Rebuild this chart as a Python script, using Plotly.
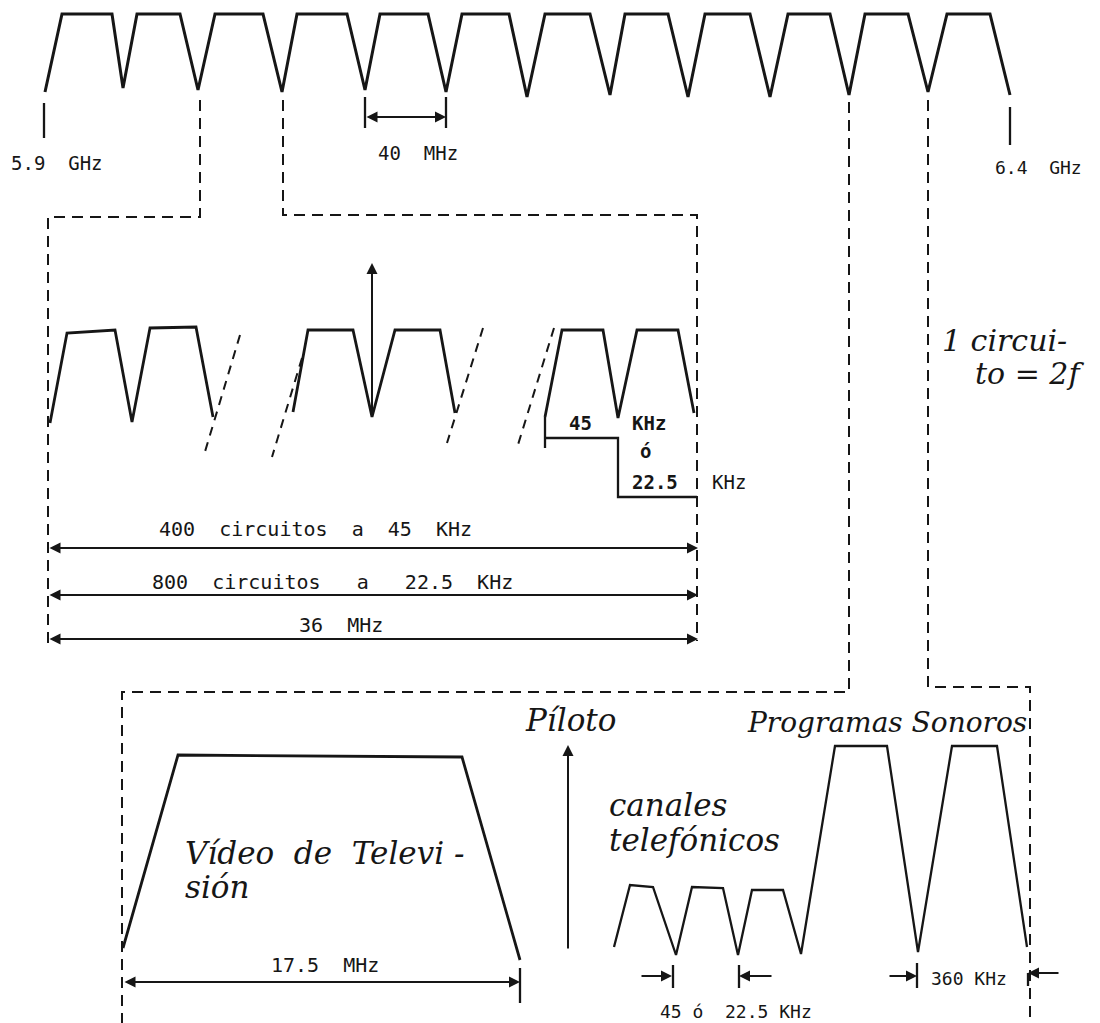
import plotly.graph_objects as go

W, H = 1100, 1023
PAGE_PAD = 8  # the page body adds an 8px margin around the figure
INK = "#161616"
LETTER = "DejaVu Sans Mono"
SCRIPT = "DejaVu Serif"

# 5.9 - 6.4 GHz band: twelve 40 MHz transponders (page pixel coords)
band_edge_x = [45, 123, 198, 282, 365, 446, 527, 610, 688, 770, 849, 928, 1010]
band_edge_y = [92, 88, 90, 92, 90, 92, 97, 95, 97, 97, 95, 92, 95]
band_top_start = [62, 137, 215, 297, 380, 462, 545, 625, 705, 788, 865, 947]
band_top_end = [112, 180, 263, 347, 428, 509, 590, 668, 750, 830, 908, 990]
band_top_y = 14

# one transponder carrying telephone circuits (three fragments)
tdm_left_x = [50, 67, 115, 132, 150, 196, 213]
tdm_left_y = [423, 333, 330, 422, 328, 327, 417]
tdm_mid_x = [293, 308, 353, 372, 395, 440, 455]
tdm_mid_y = [412, 330, 330, 417, 330, 330, 413]
tdm_right_x = [545, 562, 603, 618, 637, 678, 694]
tdm_right_y = [417, 330, 330, 418, 330, 330, 413]
# break marks between the fragments
break_x0 = [240, 302, 483, 554]
break_y0 = [335, 358, 328, 328]
break_x1 = [204, 272, 447, 517]
break_y1 = [455, 457, 443, 448]

# transponder with television video + telephone + sound programmes
tv_x = [123, 178, 462, 520]
tv_y = [948, 755, 757, 960]
tel_x = [614, 630, 653, 676, 692, 723, 738, 752, 783, 801, 835, 887, 918, 952, 997, 1027]
tel_y = [947, 885, 887, 955, 887, 888, 955, 890, 890, 954, 746, 746, 952, 746, 746, 947]

# dashed guide lines (zoom boxes)
guides = [
    ([200, 200, 48, 48], [100, 217, 217, 643]),
    ([283, 283, 697, 697], [100, 215, 215, 641]),
    ([849, 849, 122, 122], [102, 692, 692, 1023]),
    ([928, 928, 1030, 1030], [100, 687, 687, 1020]),
]

# solid ticks / brackets
ticks = [
    ([44, 44], [103, 138]),
    ([1010, 1010], [107, 145]),
    ([365, 365], [97, 128]),
    ([446, 446], [97, 128]),
    ([545, 545], [417, 448]),
    ([545, 618, 618, 697], [438, 438, 497, 497]),
    ([520, 520], [968, 1003]),
    ([673, 673], [965, 988]),
    ([739, 739], [965, 988]),
    ([917, 917], [963, 988]),
    ([1028, 1028], [973, 986]),
]

# arrows: (head_x, head_y, tail_x, tail_y, both_ends)
arrows = [
    (446, 117, 365, 117, True),
    (698, 548, 48, 548, True),
    (698, 595, 48, 595, True),
    (698, 639, 48, 639, True),
    (520, 982, 123, 982, True),
    (372, 263, 372, 417, False),
    (568, 745, 568, 950, False),
    (672, 976, 640, 976, False),
    (739, 976, 773, 976, False),
    (917, 976, 888, 976, False),
    (1028, 973, 1060, 973, False),
]

# labels: (text, x, y, size, bold)
labels = [
    ("5.9  GHz", 57, 163, 19, False),
    ("40  MHz", 418, 153, 19, False),
    ("6.4  GHz", 1038, 167, 18, False),
    ("45", 580, 423, 19, True),
    ("KHz", 649, 423, 19, True),
    ("ó", 645, 451, 19, True),
    ("22.5", 655, 482, 19, True),
    ("KHz", 729, 482, 19, False),
    ("400  circuitos  a  45  KHz", 315, 529, 20, False),
    ("800  circuitos   a   22.5  KHz", 332, 582, 20, False),
    ("36  MHz", 341, 625, 20, False),
    ("17.5  MHz", 325, 965, 20, False),
    ("360 KHz", 969, 978, 18, False),
    ("45 ó  22.5 KHz", 736, 1011, 18, False),
]
# handwritten notes: (text, left x, y, size)
script_labels = [
    ("1 circui-", 940, 340, 30),
    ("to = 2f", 973, 373, 30),
    ("Píloto", 523, 720, 31),
    ("Programas Sonoros", 745, 722, 28),
    ("canales", 607, 805, 31),
    ("telefónicos", 607, 840, 31),
    ("Vídeo  de  Televi -", 183, 853, 31),
    ("sión", 183, 887, 31),
]

fig = go.Figure()


def line(xs, ys, width=2.8, dash=None):
    fig.add_trace(go.Scatter(
        x=xs, y=ys, mode="lines", hoverinfo="skip", showlegend=False,
        line=dict(color=INK, width=width, dash=dash),
    ))


# band comb
bx, by = [band_edge_x[0]], [band_edge_y[0]]
for i in range(len(band_top_start)):
    bx += [band_top_start[i], band_top_end[i], band_edge_x[i + 1]]
    by += [band_top_y, band_top_y, band_edge_y[i + 1]]
line(bx, by, width=3)

line(tdm_left_x, tdm_left_y)
line(tdm_mid_x, tdm_mid_y)
line(tdm_right_x, tdm_right_y)
for i in range(len(break_x0)):
    line([break_x0[i], break_x1[i]], [break_y0[i], break_y1[i]], width=2, dash="9px,7px")

line(tv_x, tv_y)
line(tel_x, tel_y, width=2.3)

for gx, gy in guides:
    line(gx, gy, width=2, dash="11px,7px")
for tx, ty in ticks:
    line(tx, ty, width=2.3)

for hx, hy, tx, ty, both in arrows:
    fig.add_annotation(
        x=hx, y=hy, ax=tx, ay=ty, xref="x", yref="y", axref="x", ayref="y",
        text="", showarrow=True, arrowhead=2, arrowsize=1.1, arrowwidth=2,
        arrowcolor=INK, arrowside="end+start" if both else "end",
        standoff=0, startstandoff=0,
    )

for text, x, y, size, bold in labels:
    fig.add_annotation(
        x=x, y=y, xref="x", yref="y", showarrow=False,
        text=f"<b>{text}</b>" if bold else text,
        xanchor="center", yanchor="middle",
        font=dict(family=LETTER, size=size, color=INK),
    )

for text, x, y, size in script_labels:
    fig.add_annotation(
        x=x, y=y, xref="x", yref="y", showarrow=False,
        text=f"<i>{text}</i>", xanchor="left", yanchor="middle",
        font=dict(family=SCRIPT, size=size, color=INK),
    )

# the page margin offsets the figure, so map the visible area accordingly
fig.update_xaxes(range=[PAGE_PAD, W], visible=False, fixedrange=True)
fig.update_yaxes(range=[H, PAGE_PAD], visible=False, fixedrange=True)
fig.update_layout(
    width=W - PAGE_PAD, height=H - PAGE_PAD,
    margin=dict(l=0, r=0, t=0, b=0),
    plot_bgcolor="white", paper_bgcolor="white",
    showlegend=False,
)

fig.write_html("out.html")
